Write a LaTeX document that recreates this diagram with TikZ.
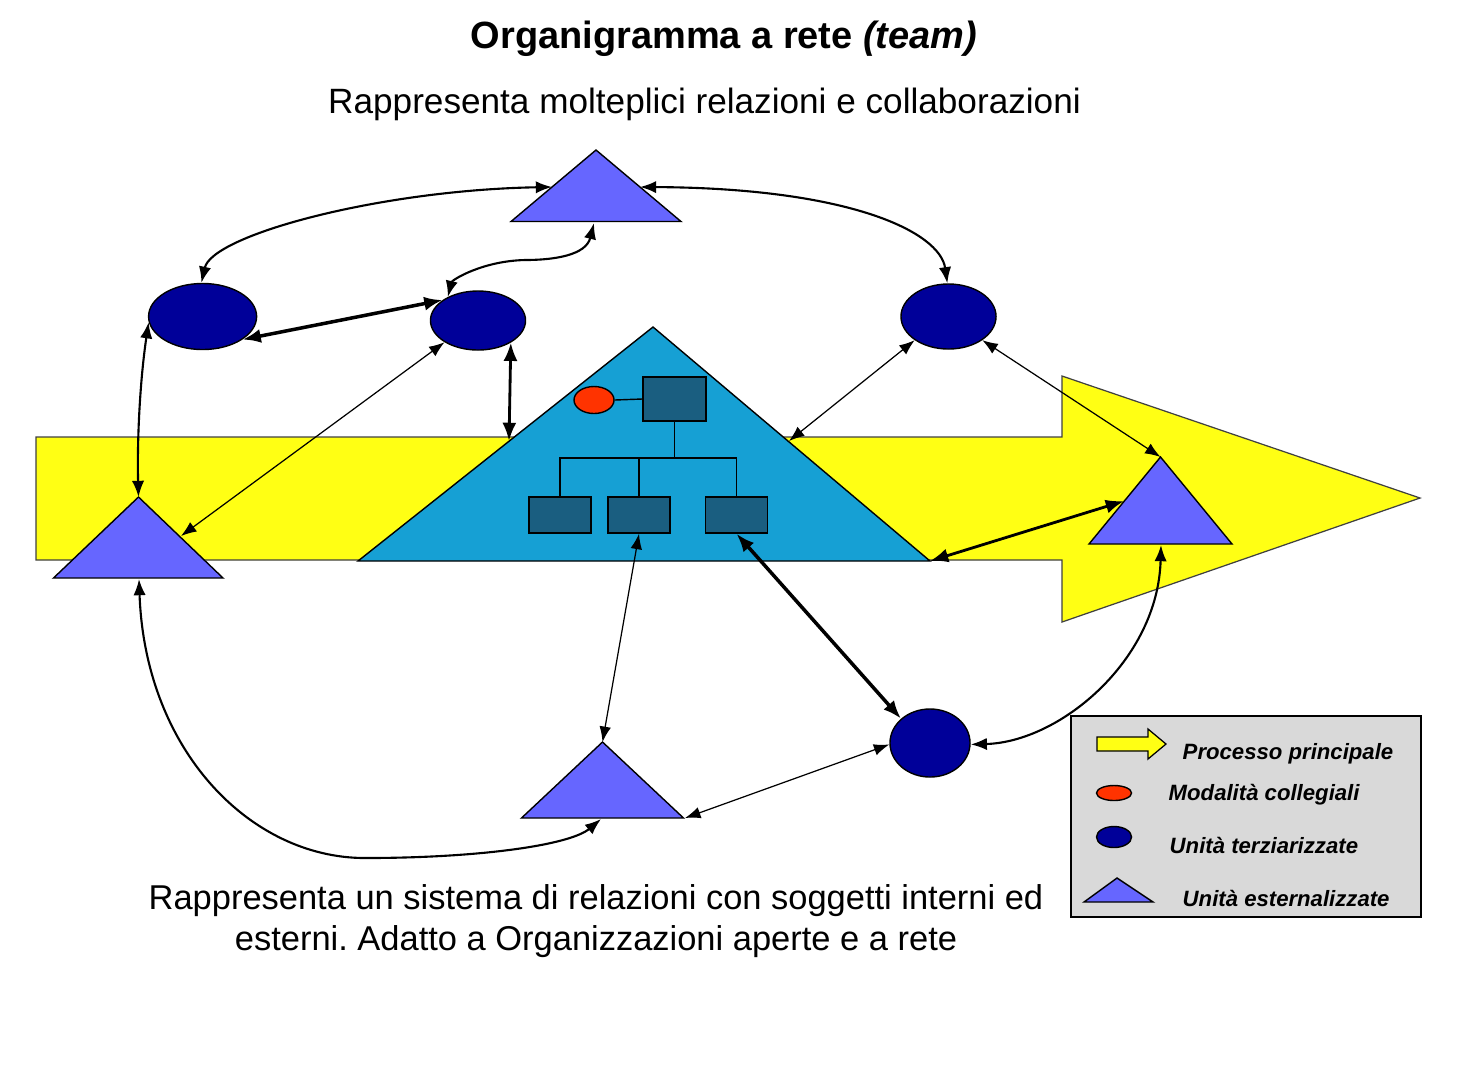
\documentclass[tikz,border=0pt]{standalone}
\usepackage{fontspec}
\setmainfont{Liberation Sans}
\usetikzlibrary{shapes.geometric,arrows.meta}
\definecolor{procyellow}{HTML}{FFFF14}
\definecolor{orgblue}{HTML}{16A0D4}
\definecolor{navy}{HTML}{000099}
\definecolor{extpurple}{HTML}{6666FF}
\definecolor{boxteal}{HTML}{1A5E80}
\definecolor{collred}{HTML}{FF3300}
\definecolor{leggray}{HTML}{D9D9D9}
\frenchspacing
\begin{document}
\begin{tikzpicture}[x=0.01cm,y=-0.01cm,
  thinlink/.style={{Latex[length=4.4pt,width=3.3pt]}-{Latex[length=4.4pt,width=3.3pt]}, line width=0.35pt},
  medlink/.style={{Latex[length=4.6pt,width=3.5pt]}-{Latex[length=4.6pt,width=3.5pt]}, line width=0.6pt},
  thicklink/.style={{Latex[length=5.2pt,width=4pt]}-{Latex[length=5.2pt,width=4pt]}, line width=1pt},
  unitell/.style={ellipse, draw=black, line width=0.4pt, fill=navy, inner sep=0pt},
  collell/.style={ellipse, draw=black, line width=0.4pt, fill=collred, inner sep=0pt},
  extshape/.style={draw=black, line width=0.4pt, fill=extpurple},
  procshape/.style={draw=black!75, line width=0.35pt, fill=procyellow},
  orgbox/.style={rectangle, draw=black, line width=0.4pt, fill=boxteal, inner sep=0pt},
  orgline/.style={draw=black, line width=0.4pt},
  legtext/.style={anchor=base west, inner sep=0pt, font=\fontsize{6.3}{7.5}\selectfont\bfseries\itshape},
  bigtext/.style={anchor=base, inner sep=0pt, font=\fontsize{9.8}{12}\selectfont},
]
\useasboundingbox (0,0) rectangle (1477,1069);

% ---- texts
\node[anchor=base, inner sep=0pt, font=\fontsize{10.8}{13}\selectfont\bfseries] (title) at (724,48) {Organigramma a rete \textit{(team)}};
\node[bigtext, font=\fontsize{10}{12}\selectfont] (subtitle) at (704.5,113) {Rappresenta molteplici relazioni e collaborazioni};
\node[bigtext] (bottom1) at (596,909) {Rappresenta un sistema di relazioni con soggetti interni ed};
\node[bigtext] (bottom2) at (596,950) {esterni. Adatto a Organizzazioni aperte e a rete};

% ---- main process arrow
\path[procshape] (36,437) -- (1062,437) -- (1062,376) -- (1420,498) -- (1062,622) -- (1062,560) -- (36,560) -- cycle;

% ---- central organisation triangle
\coordinate (orgApex) at (653,327);
\coordinate (orgBL) at (358,561);
\coordinate (orgBR) at (930,561);
\path[draw=black, line width=0.4pt, fill=orgblue] (orgApex) -- (orgBR) -- (orgBL) -- cycle;
\coordinate (orgL) at (509,441);
\coordinate (orgR) at (789,441);

% org chart
\node[orgbox, minimum width=0.63cm, minimum height=0.44cm] (boss) at (674.5,399) {};
\node[orgbox, minimum width=0.62cm, minimum height=0.36cm] (box1) at (560,515) {};
\node[orgbox, minimum width=0.62cm, minimum height=0.36cm] (box2) at (639,515) {};
\node[orgbox, minimum width=0.62cm, minimum height=0.36cm] (box3) at (736.5,515) {};
\node[collell, minimum width=0.40cm, minimum height=0.27cm] (coll) at (594,400) {};
\coordinate (bus) at (674.5,458);
\draw[orgline] (coll.east) -- (boss.west);
\draw[orgline] (boss.south) -- (bus);
\draw[orgline] (box1.north) |- (bus) -| (box3.north);
\draw[orgline] (box2.north) -- (box2.north |- bus);

% ---- external units (triangles)
\path[extshape] (596,150) -- (681,221.5) -- (511,221.5) -- cycle;
\coordinate (t1L) at (552,187);
\coordinate (t1R) at (640,187);
\coordinate (t1B) at (594,223);

\path[extshape] (138.5,497) -- (223,578) -- (53.5,578) -- cycle;
\coordinate (t2A) at (138.5,497);
\coordinate (t2R) at (181,536);
\coordinate (t2B) at (139,579);

\path[extshape] (1160.5,457) -- (1232,544) -- (1089,544) -- cycle;
\coordinate (t3A) at (1160.5,457);
\coordinate (t3L) at (1124,501);
\coordinate (t3B) at (1161,545);

\path[extshape] (602.5,742) -- (683.5,818) -- (521.5,818) -- cycle;
\coordinate (t4A) at (602.5,742);
\coordinate (t4R) at (685,818);
\coordinate (t4B) at (601,819);

% ---- outsourced units (ellipses)
\node[unitell, minimum width=1.08cm, minimum height=0.66cm] (E1) at (202.6,316.5) {};
\node[unitell, minimum width=0.95cm, minimum height=0.59cm] (E2) at (478,320.5) {};
\node[unitell, minimum width=0.95cm, minimum height=0.65cm] (E3) at (948.5,316.5) {};
\node[unitell, minimum width=0.80cm, minimum height=0.68cm] (E4) at (930,743) {};

% ---- connectors
\draw[medlink] (t1L) .. controls (380,190) and (212,235) .. (E1.92);
\draw[medlink] (t1R) .. controls (850,188) and (940,232) .. (E3.92);
\draw[medlink] (t1B) .. controls (586,255) and (555,260) .. (525,260) .. controls (482,261) and (452,280) .. (E2.142);
\draw[thicklink] (E1.-30) -- (E2.150);
\draw[medlink] (E1.186) .. controls (140,380) and (137,440) .. (t2A);
\draw[thinlink] (E2.-147) -- (t2R);
\draw[thicklink, line width=0.8pt] (E2.-34) -- (orgL);
\draw[thinlink] (E3.-145) -- (orgR);
\draw[thinlink] (E3.-35) -- (t3A);
\draw[thicklink, line width=0.8pt] (t3L) -- (orgBR);
\draw[medlink] (t3B) .. controls (1158,660) and (1060,742) .. (E4.-2);
\draw[thinlink] (box2.south) -- (t4A);
\draw[thicklink] (box3.south) -- (E4.140);
\draw[thinlink] (t4R) -- (E4.182);
\draw[medlink] (t2B) .. controls (145,750) and (250,858) .. (365,858) .. controls (480,858) and (570,845) .. (t4B);

% ---- legend
\node[draw=black, line width=0.5pt, fill=leggray, minimum width=3.5cm, minimum height=2.01cm, inner sep=0pt] (legend) at (1246,816.5) {};
\path[procshape, draw=black] (1097,737) -- (1148,737) -- (1148,729) -- (1166,744) -- (1148,759) -- (1148,751) -- (1097,751) -- cycle;
\node[legtext] (lproc) at (1182,759) {Processo principale};
\node[collell, minimum width=0.35cm, minimum height=0.15cm] (lcoll) at (1114,793) {};
\node[legtext] (lcolltxt) at (1168,800) {Modalità collegiali};
\node[unitell, minimum width=0.35cm, minimum height=0.21cm] (lunit) at (1114,837) {};
\node[legtext] (lunittxt) at (1169,853) {Unità terziarizzate};
\path[extshape] (1117,878) -- (1153,902) -- (1084,902) -- cycle;
\node[legtext] (lexttxt) at (1182,906) {Unità esternalizzate};
\end{tikzpicture}
\end{document}
